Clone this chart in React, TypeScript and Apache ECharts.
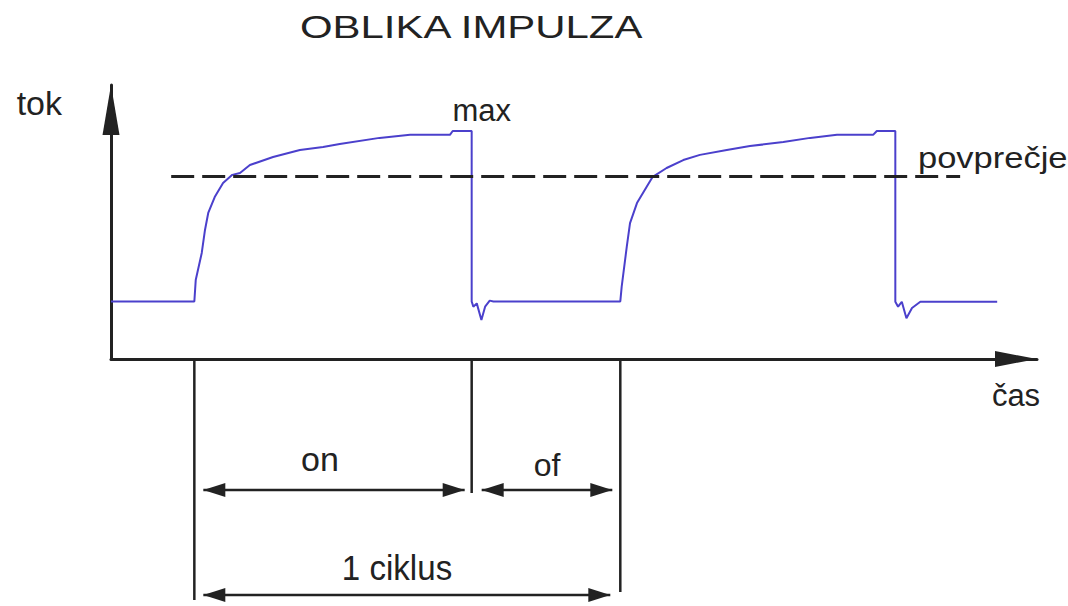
import React, { useEffect, useRef } from "react";
import * as echarts from "echarts";

// Pulse train: time (arbitrary units) and current (arbitrary units)
const pulseTime = [
  0, 9, 9.15, 9.8, 10.15, 10.5, 11.2, 12.1, 13.1, 13.93, 15.0, 17.5, 20.4, 22.9, 24.7, 29.0, 32.3, 36.6, 36.9, 38.95,
  38.95, 39.13, 39.5, 40.0, 40.4, 40.9, 41.3,
  55.0, 55.15, 55.7, 56.05, 56.8, 57.85, 58.5, 60.0, 61.8, 63.6, 66.5, 69.0, 72.6, 75.5, 78.4, 82.3, 82.7, 84.7,
  84.7, 85.0, 85.4, 85.9, 86.5, 87.4, 95.7,
];
const pulseCurrent = [
  21, 21, 28.8, 38.7, 47.1, 53.3, 59.1, 64.2, 67.2, 67.9, 70.8, 73.7, 76.3, 77.4, 78.5, 80.7, 81.8, 81.8, 83.2, 83.2,
  21, 19.1, 20.3, 14.2, 19.1, 21.3, 21,
  21, 26.4, 41, 49.6, 56.9, 62.9, 66.5, 69.7, 72.6, 74.5, 76.3, 77.7, 79.2, 80.7, 81.8, 81.8, 83.2, 83.2,
  20.9, 19.1, 20.9, 14.9, 18.6, 20.9, 20.9,
];

// Average current and the span of its reference line
const averageCurrent = 66.8;
const averageSpan = [6.5, 91.7];

// Cycle markers: switch-on, switch-off, next switch-on
const cycleMarks = [9, 38.95, 55];
const cycleLabels = ["on", "of", "1 ciklus"];

const TEXT = "#222";
const FONT = "Liberation Sans, Arial, sans-serif";

export default function App() {
  const ref = useRef<HTMLDivElement>(null);

  useEffect(() => {
    const el = ref.current!;
    const chart = echarts.init(el, null, { renderer: "svg" });

    const pulseData = pulseTime.map((t, i) => [t, pulseCurrent[i]]);

    chart.setOption({
      animation: false,
      backgroundColor: "#fff",
      grid: { left: 111, right: 31, top: 85, bottom: 247 },
      xAxis: {
        type: "value",
        min: 0,
        max: 100,
        name: "čas",
        nameLocation: "end",
        nameGap: -21,
        nameTextStyle: {
          color: TEXT,
          fontSize: 31,
          fontFamily: FONT,
          align: "center",
          verticalAlign: "top",
          padding: [21, 0, 0, 0],
        },
        axisLine: {
          show: true,
          symbol: ["none", "triangle"],
          symbolSize: [16, 42],
          symbolOffset: [0, -21],
          lineStyle: { color: "#222", width: 3 },
        },
        axisTick: { show: false },
        axisLabel: { show: false },
        splitLine: { show: false },
      },
      yAxis: {
        type: "value",
        min: 0,
        max: 100,
        name: "tok",
        nameLocation: "end",
        nameGap: -18,
        nameTextStyle: {
          color: TEXT,
          fontSize: 34,
          fontFamily: FONT,
          align: "right",
          verticalAlign: "middle",
          padding: [0, 49, 0, 0],
        },
        axisLine: {
          show: true,
          symbol: ["none", "triangle"],
          symbolSize: [17, 50],
          symbolOffset: [0, -25],
          lineStyle: { color: "#222", width: 3 },
        },
        axisTick: { show: false },
        axisLabel: { show: false },
        splitLine: { show: false },
      },
      series: [
        {
          type: "line",
          data: pulseData,
          symbol: "none",
          clip: false,
          lineStyle: { color: "#4b40cc", width: 2 },
          markPoint: {
            symbol: "circle",
            symbolSize: 0,
            data: [
              {
                coord: [38.95, 83.2],
                label: {
                  show: true,
                  formatter: "max",
                  position: "inside",
                  offset: [10, -21],
                  color: TEXT,
                  fontSize: 31,
                  fontFamily: FONT,
                },
              },
            ],
          },
          markLine: {
            silent: true,
            symbol: ["none", "none"],
            label: { show: false },
            lineStyle: { color: "#222", width: 3, type: [23, 8] },
            data: [
              [
                { coord: [averageSpan[0], averageCurrent] },
                { coord: [averageSpan[1], averageCurrent] },
              ],
            ],
          },
        },
      ],
    });

    const px = (t: number) => chart.convertToPixel({ xAxisIndex: 0 }, t) as number;
    const [xOn, xOff, xNext] = cycleMarks.map(px);
    const axisY = chart.convertToPixel({ yAxisIndex: 0 }, 0) as number;

    const rowOn = 490;
    const rowCycle = 595;
    const head = 22;
    const half = 7;
    const ink = { stroke: "#222", lineWidth: 2.5 };

    const vline = (x: number, y2: number) => ({
      type: "line",
      shape: { x1: x, y1: axisY, x2: x, y2 },
      style: ink,
    });
    const dimension = (x1: number, x2: number, y: number) => [
      { type: "line", shape: { x1, y1: y, x2, y2: y }, style: ink },
      {
        type: "polygon",
        shape: { points: [[x1, y], [x1 + head, y - half], [x1 + head, y + half]] },
        style: { fill: "#222" },
      },
      {
        type: "polygon",
        shape: { points: [[x2, y], [x2 - head, y - half], [x2 - head, y + half]] },
        style: { fill: "#222" },
      },
    ];
    const label = (
      text: string,
      x: number,
      y: number,
      size: number,
      align: string,
      scaleX = 1
    ) => ({
      type: "text",
      x,
      y,
      scaleX,
      style: {
        text,
        fill: TEXT,
        font: `${size}px ${FONT}`,
        align,
        verticalAlign: "middle",
        textAlign: align,
        textVerticalAlign: "middle",
      },
    });

    chart.setOption({
      graphic: [
        label("OBLIKA IMPULZA", 300, 27, 32, "left", 1.31),
        label("povprečje", 918, 158, 30, "left", 1.15),
        vline(xOn, 600),
        vline(xOff, 493),
        vline(xNext, 592),
        ...dimension(xOn + 9, xOff - 7, rowOn),
        ...dimension(xOff + 10, xNext - 8, rowOn),
        ...dimension(xOn + 9, xNext - 10, rowCycle),
        label(cycleLabels[0], 320, 459, 34, "center"),
        label(cycleLabels[1], 547, 465, 32, "center"),
        label(cycleLabels[2], 397, 568, 36, "center", 0.92),
      ],
    });

    return () => chart.dispose();
  }, []);

  return (
    <div
      ref={ref}
      style={{ position: "fixed", left: 0, top: 0, width: 1068, height: 606, background: "#fff" }}
    />
  );
}
